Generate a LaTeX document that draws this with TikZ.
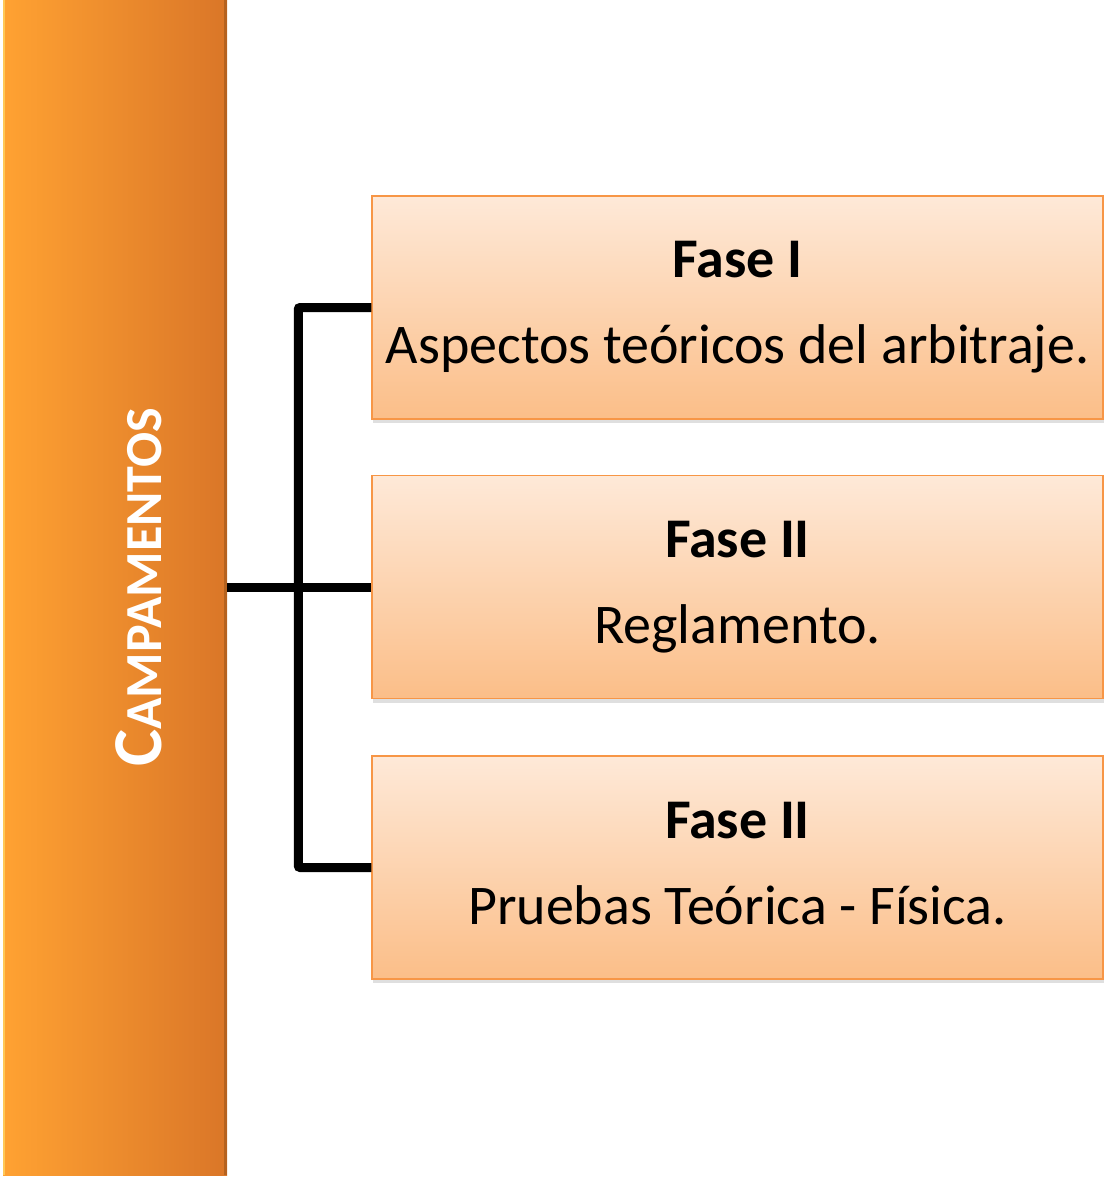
\documentclass[tikz,border=0pt]{standalone}
\usepackage{fontspec}
\setmainfont{Carlito}
\usetikzlibrary{positioning,shadows}
\definecolor{barL}{HTML}{FFA232}
\definecolor{barR}{HTML}{DA7628}
\definecolor{barHi}{HTML}{FFC857}
\definecolor{barLo}{HTML}{B5621F}
\definecolor{boxT}{HTML}{FEE9D8}
\definecolor{boxB}{HTML}{FBBE88}
\definecolor{boxLine}{HTML}{F79646}
\newcommand{\lowdepth}{\rule[-9pt]{0pt}{0pt}}

\begin{document}
\begin{tikzpicture}
[x=1pt, y=1pt, node distance=55pt,
% The bar style is used to draw the left column
bar/.style={rectangle, inner sep=0pt, minimum width=224pt, minimum height=1175pt, left color=barL, right color=barR},
% The fase style is used to draw each phase box
fase/.style={rectangle, draw=boxLine, line width=1.5pt, top color=boxT, bottom color=boxB, inner sep=0pt, minimum width=731pt, minimum height=223pt, align=center, font=\fontsize{56}{66}\selectfont, drop shadow={shadow xshift=1pt, shadow yshift=-4pt, opacity=0.25}},
% The link style is used to draw the connectors
link/.style={line width=9pt, black, rounded corners=2pt}
]
\useasboundingbox (0,0) rectangle (1105,-1177);
% Draw column
\node [bar] (bar) at (115,-587.5) {};
\fill [barHi] (bar.north west) rectangle ([xshift=2pt]bar.south west);
\fill [barLo] ([xshift=-3pt]bar.north east) rectangle (bar.south east);
\node [rotate=90, text=white, font=\bfseries] (camp) at ([xshift=24pt]bar.center) {\fontsize{70}{80}\selectfont C\fontsize{52}{60}\selectfont AMPAMENTOS};

% Draw phases
\node [fase] (f1) at (737.5,-307.5) {\textbf{Fase I}\\[20pt]Aspectos teóricos del arbitraje.\lowdepth};
\node [fase, below=55pt of f1] (f2) {\textbf{Fase II}\\[20pt]Reglamento.\lowdepth};
\node [fase, below=56pt of f2] (f3) {\textbf{Fase II}\\[20pt]Pruebas Teórica - Física.\lowdepth};

% Draw connectors
\coordinate [left=73pt of f2.west] (trunk);
\draw [link] (f1.west) -| (trunk) |- (f3.west);
\draw [link] (bar.east |- f2.west) -- (f2.west);
\end{tikzpicture}
\end{document}
